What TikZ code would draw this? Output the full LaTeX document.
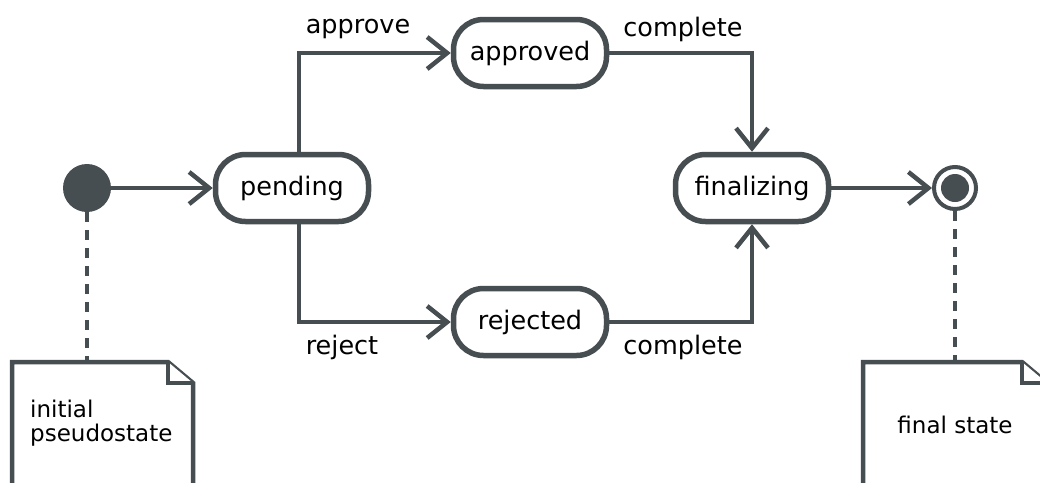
\documentclass[tikz,border=0pt]{standalone}
\usepackage{fontspec}
\setmainfont{DejaVu Sans}
\usetikzlibrary{arrows.meta,calc}
\definecolor{ink}{HTML}{474E51}
\tikzset{
  statebox/.style={draw=ink, line width=5.5pt, fill=white, rectangle, rounded corners=30pt,
    minimum width=153pt, minimum height=67pt, inner sep=0pt, font=\fontsize{25.5}{30}\selectfont},
  trans/.style={draw=ink, line width=4.5pt, -{Straight Barb[length=20pt,width=32pt,line width=4.5pt]}},
  lbl/.style={font=\fontsize{25.5}{30}\selectfont, inner sep=0pt},
  notetext/.style={font=\fontsize{23}{24}\selectfont, inner sep=0pt},
  notebox/.style={draw=ink, line width=4.5pt, fill=white, line join=miter},
  anchorline/.style={draw=ink, line width=4.5pt, dash pattern=on 10pt off 8pt}
}
\begin{document}
\begin{tikzpicture}[x=1pt,y=-1pt]
\useasboundingbox (0,0) rectangle (1040,482);
\clip (0,0) rectangle (1040,482);
\fill[white] (0,0) rectangle (1040,482);

% notes (drawn first)
\coordinate (n1top) at (87,362);
\coordinate (n2top) at (955,362);
\draw[notebox] (12,500) -- (12,362) -- (168,362) -- (193,383) -- (193,500);
\draw[notebox] (168,362) -- (168,383) -- (193,383);
\node[notetext, align=left, anchor=west] (n1) at (30,423) {initial\\pseudostate};
\draw[notebox] (863,500) -- (863,362) -- (1022,362) -- (1047,383) -- (1047,500);
\draw[notebox] (1022,362) -- (1022,383) -- (1047,383);
\node[notetext] (n2) at (955,425) {final state};

% states
\node[circle, fill=ink, minimum size=48pt, inner sep=0pt] (init) at (87,188) {};
\node[statebox] (pending) at (292,188) {pending};
\node[statebox] (approved) at (530,53) {approved};
\node[statebox] (rejected) at (530,322) {rejected};
\node[statebox] (finalizing) at (752,188) {finalizing};
\node[circle, draw=ink, line width=4pt, fill=white, minimum size=42pt, inner sep=0pt] (final) at (955,188) {};
\node[circle, fill=ink, minimum size=28pt, inner sep=0pt] (finaldot) at (955,188) {};

% anchors to notes
\draw[anchorline] (init.south) -- (n1top);
\draw[anchorline] (final.south) -- (n2top);

% transitions
\draw[trans] (init.east) -- (pending.west);
\draw[trans] ([xshift=7pt]pending.north) |- (approved.west);
\draw[trans] ([xshift=7pt]pending.south) |- (rejected.west);
\draw[trans] (approved.east) -| (finalizing.north);
\draw[trans] (rejected.east) -| (finalizing.south);
\draw[trans] (finalizing.east) -- (final.west);

% labels
\node[lbl] (lapprove) at (358,29) {approve};
\node[lbl] (lreject) at (342,347) {reject};
\node[lbl] (lcomplete1) at (683,29) {complete};
\node[lbl] (lcomplete2) at (683,347) {complete};
\end{tikzpicture}
\end{document}
